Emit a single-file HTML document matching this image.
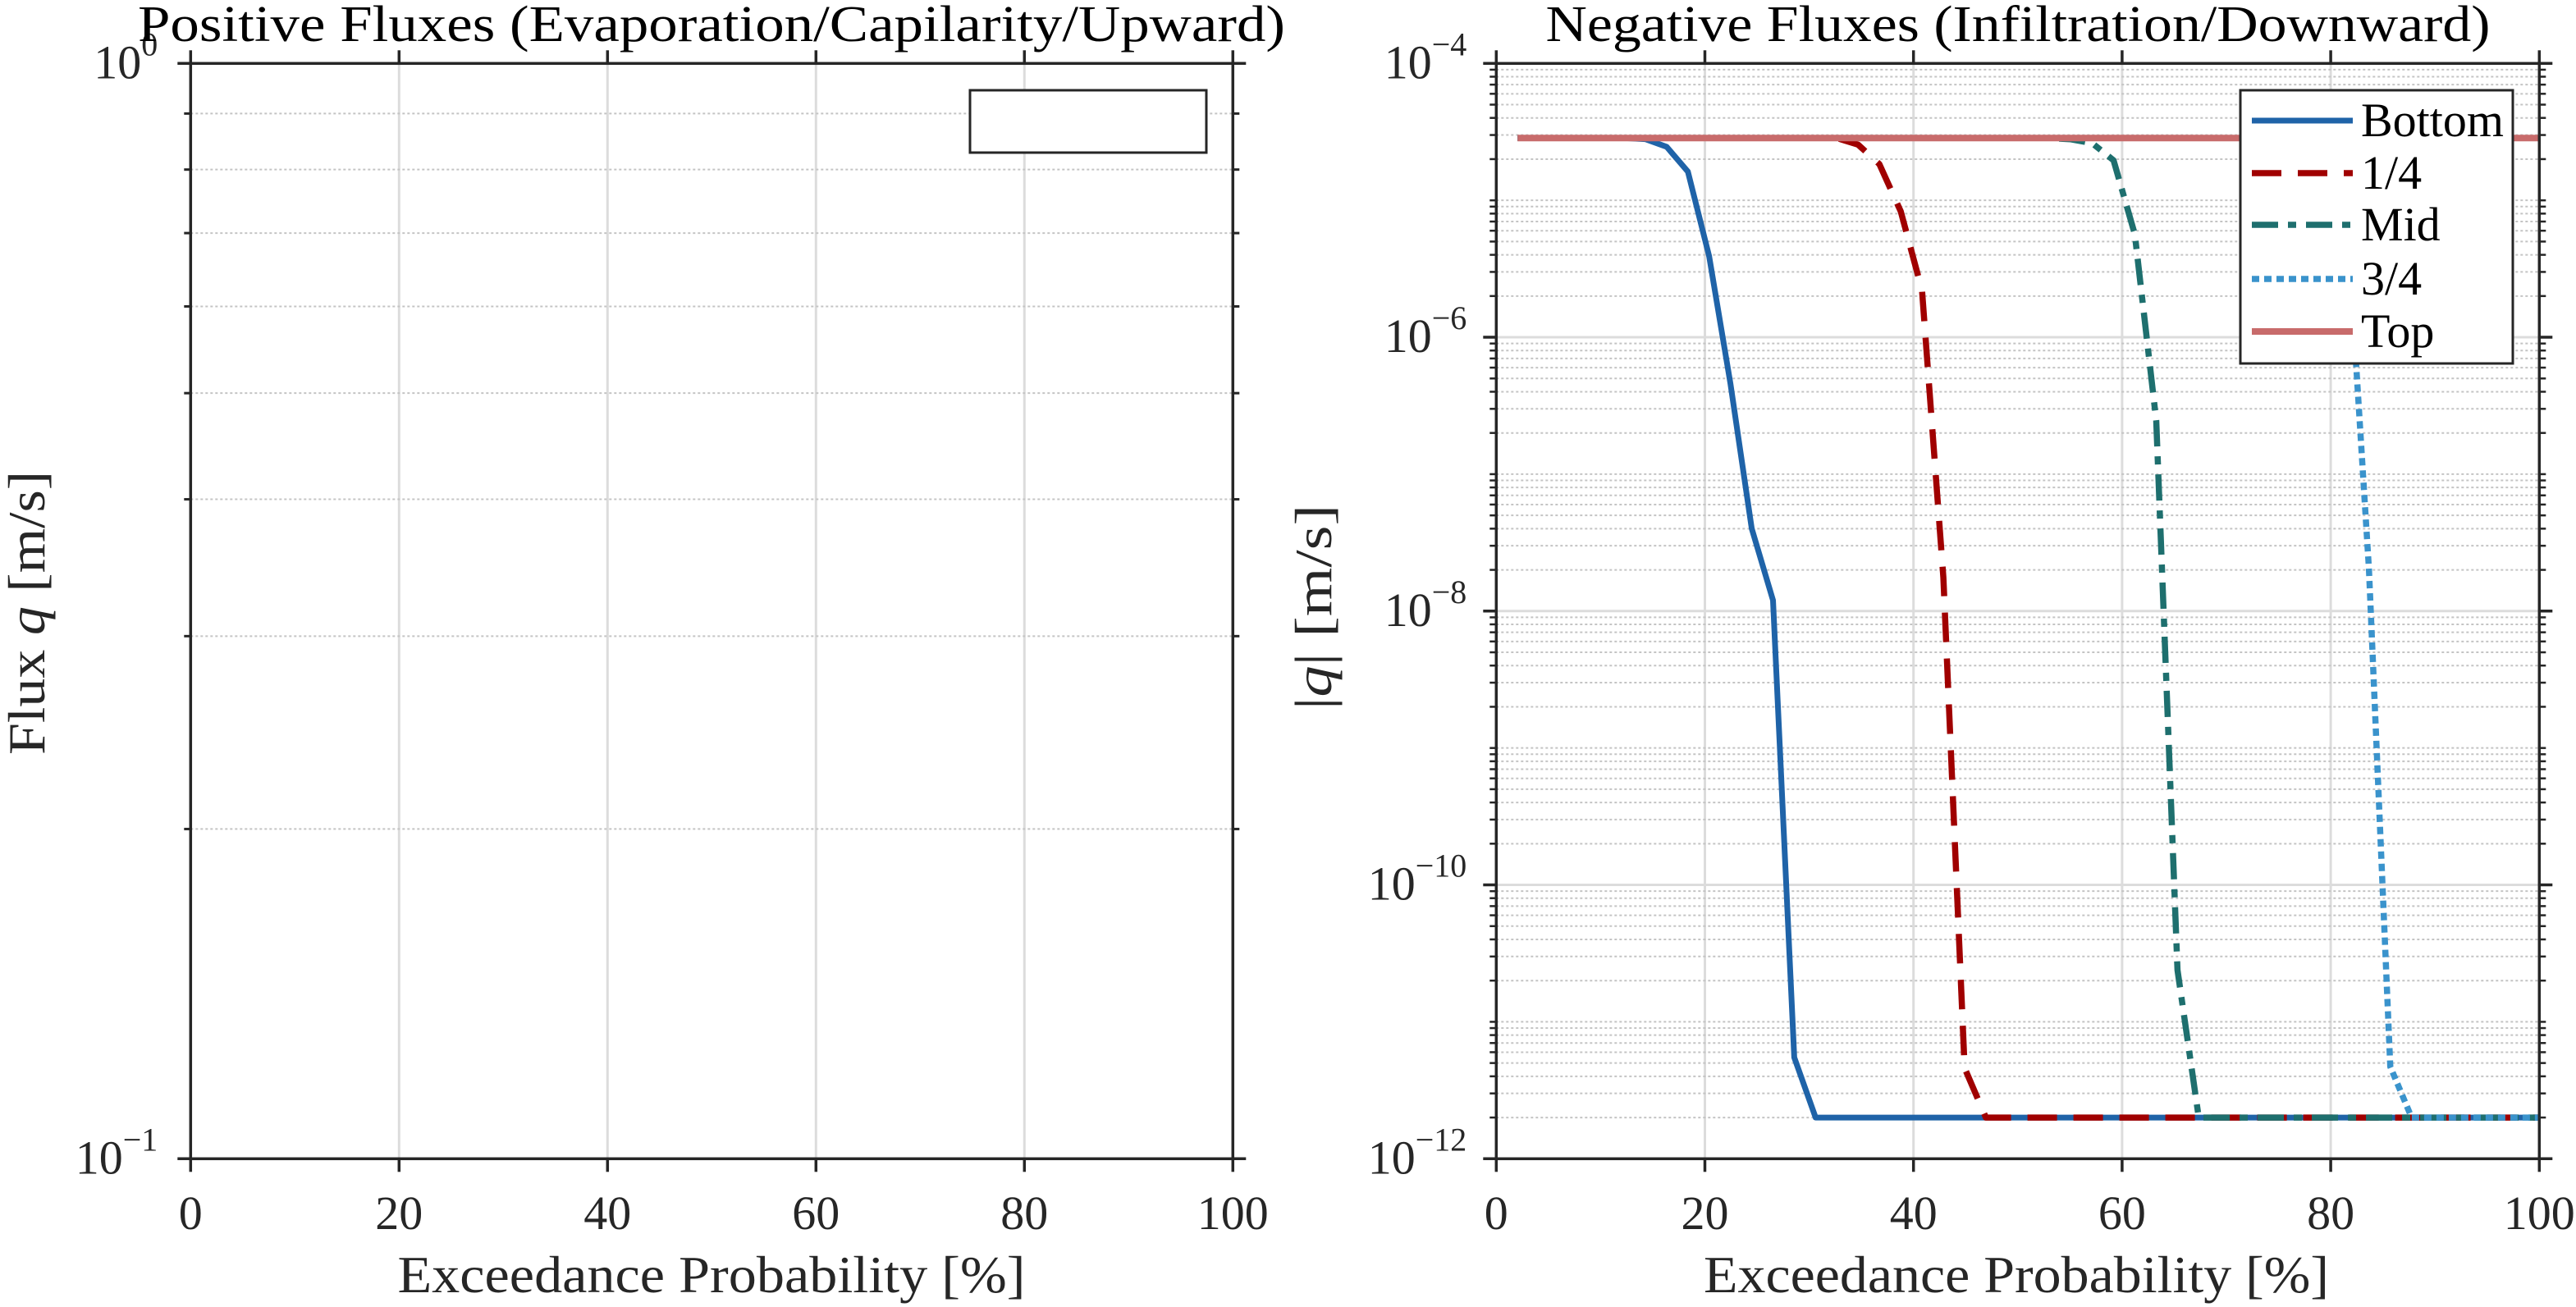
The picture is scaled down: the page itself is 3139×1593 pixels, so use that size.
<!DOCTYPE html>
<html><head><meta charset="utf-8"><style>
html,body{margin:0;padding:0;background:#fff;}
svg{display:block;font-family:"Liberation Serif",serif;}
</style></head><body>
<svg id="fig" width="3139" height="1593" viewBox="0 0 3139 1593" xmlns="http://www.w3.org/2000/svg"></svg>
<script>
// ---- data (right chart) ----
const probabilities = [2.04,4.08,6.12,8.16,10.20,12.24,14.29,16.33,18.37,20.41,22.45,24.49,26.53,28.57,30.61,32.65,34.69,36.73,38.78,40.82,42.86,44.90,46.94,48.98,51.02,53.06,55.10,57.14,59.18,61.22,63.27,65.31,67.35,69.39,71.43,73.47,75.51,77.55,79.59,81.63,83.67,85.71,87.76,89.80,91.84,93.88,95.92,97.96,100];
const bottomFlux = [2.85e-5,2.85e-5,2.85e-5,2.85e-5,2.85e-5,2.85e-5,2.8e-5,2.46e-5,1.62e-5,3.9e-6,4.6e-7,4.0e-8,1.2e-8,5.5e-12,
 2e-12,2e-12,2e-12,2e-12,2e-12,2e-12,2e-12,2e-12,2e-12,2e-12,2e-12,2e-12,2e-12,2e-12,2e-12,2e-12,2e-12,2e-12,2e-12,2e-12,2e-12,2e-12,2e-12,2e-12,2e-12,2e-12,2e-12,2e-12,2e-12,2e-12,2e-12,2e-12,2e-12,2e-12,2e-12];
const quarterFlux = [2.85e-5,2.85e-5,2.85e-5,2.85e-5,2.85e-5,2.85e-5,2.85e-5,2.85e-5,2.85e-5,2.85e-5,2.85e-5,2.85e-5,2.85e-5,2.85e-5,2.85e-5,2.85e-5,
 2.55e-5,1.84e-5,8.3e-6,2.2e-6,1.76e-8,4.6e-12,
 2e-12,2e-12,2e-12,2e-12,2e-12,2e-12,2e-12,2e-12,2e-12,2e-12,2e-12,2e-12,2e-12,2e-12,2e-12,2e-12,2e-12,2e-12,2e-12,2e-12,2e-12,2e-12,2e-12,2e-12,2e-12,2e-12,2e-12];
const midFlux = [2.85e-5,2.85e-5,2.85e-5,2.85e-5,2.85e-5,2.85e-5,2.85e-5,2.85e-5,2.85e-5,2.85e-5,2.85e-5,2.85e-5,2.85e-5,2.85e-5,2.85e-5,2.85e-5,2.85e-5,2.85e-5,2.85e-5,2.85e-5,2.85e-5,2.85e-5,2.85e-5,2.85e-5,2.85e-5,2.85e-5,
 2.79e-5,2.61e-5,1.96e-5,5.65e-6,2.46e-7,2.39e-11,
 2e-12,2e-12,2e-12,2e-12,2e-12,2e-12,2e-12,2e-12,2e-12,2e-12,2e-12,2e-12,2e-12,2e-12,2e-12,2e-12,2e-12];
const threeQuarterFlux = [2.85e-5,2.85e-5,2.85e-5,2.85e-5,2.85e-5,2.85e-5,2.85e-5,2.85e-5,2.85e-5,2.85e-5,2.85e-5,2.85e-5,2.85e-5,2.85e-5,2.85e-5,2.85e-5,2.85e-5,2.85e-5,2.85e-5,2.85e-5,2.85e-5,2.85e-5,2.85e-5,2.85e-5,2.85e-5,2.85e-5,2.85e-5,2.85e-5,2.85e-5,2.85e-5,2.85e-5,2.85e-5,2.85e-5,2.85e-5,2.85e-5,2.85e-5,2.85e-5,2.85e-5,
 2.0e-5,6.1e-6,2.02e-8,4.7e-12,
 2e-12,2e-12,2e-12,2e-12,2e-12,2e-12,2e-12];
const topFlux = [2.85e-5,2.85e-5,2.85e-5,2.85e-5,2.85e-5,2.85e-5,2.85e-5,2.85e-5,2.85e-5,2.85e-5,2.85e-5,2.85e-5,2.85e-5,2.85e-5,2.85e-5,2.85e-5,2.85e-5,2.85e-5,2.85e-5,2.85e-5,2.85e-5,2.85e-5,2.85e-5,2.85e-5,2.85e-5,2.85e-5,2.85e-5,2.85e-5,2.85e-5,2.85e-5,2.85e-5,2.85e-5,2.85e-5,2.85e-5,2.85e-5,2.85e-5,2.85e-5,2.85e-5,2.85e-5,2.85e-5,2.85e-5,2.85e-5,2.85e-5,2.85e-5,2.85e-5,2.85e-5,2.85e-5,2.85e-5,2.85e-5];
const seriesNames = ["Bottom","1/4","Mid","3/4","Top"];
const xTickLabels = ["0","20","40","60","80","100"];
const xTickValues = [0,20,40,60,80,100];
const rightExpTicks = [-4,-6,-8,-10,-12];
const leftExpTicks = [0,-1];

const NS="http://www.w3.org/2000/svg";
const svg=document.getElementById('fig');
function mk(tag,attrs,parent){const e=document.createElementNS(NS,tag);for(const k in attrs)e.setAttribute(k,attrs[k]);(parent||svg).appendChild(e);return e;}

const AX='#262626', GRID='#dcdcdc', MINOR='#c4c4c4';
const L={x0:232.3,x1:1502.3,y0:77.3,y1:1412.3};
const R={x0:1823.3,x1:3094.3,y0:77.3,y1:1412.3};
function xL(p){return L.x0+(L.x1-L.x0)*p/100;}
function yL(v){return L.y0+(0-Math.log10(v))*(L.y1-L.y0)/1;}
function xR(p){return R.x0+(R.x1-R.x0)*p/100;}
function yR(v){return R.y0+(-4-Math.log10(v))*(R.y1-R.y0)/8;}
const TF=58, SF=40, AW=3.5;

function drawFrame(A,name){
  const g=mk('g',{});
  
  
  return g;
}

// ---------- LEFT PLOT ----------
const gL=drawFrame(L,'positive-flux');
xTickValues.forEach(v=>{ if(v>0&&v<100){const l=mk('line',{x1:xL(v),x2:xL(v),y1:L.y0,y2:L.y1,stroke:GRID,'stroke-width':3},gL);

}});
for(let m=2;m<=9;m++){const y=yL(m/10);
  const l=mk('line',{x1:L.x0,x2:L.x1,y1:y,y2:y,stroke:MINOR,'stroke-width':2,'stroke-dasharray':'3 3'},gL);
  
  
  mk('line',{x1:L.x0-8,x2:L.x0,y1:y,y2:y,stroke:AX,'stroke-width':3},gL);
  mk('line',{x1:L.x1,x2:L.x1+8,y1:y,y2:y,stroke:AX,'stroke-width':3},gL);
}
const bL=mk('rect',{x:L.x0,y:L.y0,width:L.x1-L.x0,height:L.y1-L.y0,fill:'none',stroke:AX,'stroke-width':AW},gL);


xTickValues.forEach((v,i)=>{const x=xL(v);
  mk('line',{x1:x,x2:x,y1:L.y1,y2:L.y1+16,stroke:AX,'stroke-width':AW},gL);
  mk('line',{x1:x,x2:x,y1:L.y0-16,y2:L.y0,stroke:AX,'stroke-width':AW},gL);
  const t=mk('text',{x:x,y:1498,'font-size':TF,'text-anchor':'middle',fill:AX},gL);t.textContent=xTickLabels[i];
  
  
});
leftExpTicks.forEach(e=>{const y=yL(Math.pow(10,e));
  mk('line',{x1:L.x0-16,x2:L.x0,y1:y,y2:y,stroke:AX,'stroke-width':AW},gL);
  mk('line',{x1:L.x1,x2:L.x1+16,y1:y,y2:y,stroke:AX,'stroke-width':AW},gL);
  const t=mk('text',{x:L.x0-40,y:y+18,'font-size':TF,'text-anchor':'end',fill:AX},gL);
  
  
  t.appendChild(document.createTextNode('10'));
  const s=mk('tspan',{dy:-28,'font-size':SF},t);s.textContent=(e<0?'\u2212':'')+Math.abs(e);
});
const lgL=mk('rect',{x:1182,y:110,width:288,height:76,fill:'#fff',stroke:AX,'stroke-width':3},gL);


let t=mk('text',{x:867,y:50,'font-size':62,'text-anchor':'middle',fill:'#000',textLength:1398,lengthAdjust:'spacingAndGlyphs'},gL);
t.textContent='Positive Fluxes (Evaporation/Capilarity/Upward)';


t=mk('text',{x:867,y:1575,'font-size':64,'text-anchor':'middle',fill:AX,textLength:765,lengthAdjust:'spacingAndGlyphs'},gL);
t.textContent='Exceedance Probability [%]';


t=mk('text',{x:0,y:0,'font-size':64,'text-anchor':'middle',fill:AX,transform:'translate(54,747) rotate(-90)',textLength:346,lengthAdjust:'spacingAndGlyphs'},gL);
t.appendChild(document.createTextNode('Flux '));
const qi=mk('tspan',{'font-style':'italic'},t);qi.textContent='q';
t.appendChild(document.createTextNode(' [m/s]'));



// ---------- RIGHT PLOT ----------
const gR=drawFrame(R,'negative-flux');
xTickValues.forEach(v=>{ if(v>0&&v<100){const l=mk('line',{x1:xR(v),x2:xR(v),y1:R.y0,y2:R.y1,stroke:GRID,'stroke-width':3},gR);

}});
for(let e=-12;e<-4;e++){
  for(let m=1;m<=9;m++){
    if(m===1 && e%2===0) continue;
    const y=yR(m*Math.pow(10,e));
    const l=mk('line',{x1:R.x0,x2:R.x1,y1:y,y2:y,stroke:MINOR,'stroke-width':2,'stroke-dasharray':'3 3'},gR);
    
    
    mk('line',{x1:R.x0-8,x2:R.x0,y1:y,y2:y,stroke:AX,'stroke-width':2.5},gR);
    mk('line',{x1:R.x1,x2:R.x1+8,y1:y,y2:y,stroke:AX,'stroke-width':2.5},gR);
  }
}
rightExpTicks.forEach(e=>{const y=yR(Math.pow(10,e));
  if(e>-12&&e<-4){const l=mk('line',{x1:R.x0,x2:R.x1,y1:y,y2:y,stroke:GRID,'stroke-width':3},gR);
  
  }
});
const styles=[
 {d:bottomFlux,c:'#1f63a8',w:7,da:''},
 {d:quarterFlux,c:'#a00000',w:7.5,da:'36 20'},
 {d:midFlux,c:'#1e6f6e',w:7.5,da:'32 12 10 12'},
 {d:threeQuarterFlux,c:'#3a93cc',w:7.5,da:'9 6'},
 {d:topFlux,c:'#c86b6b',w:8,da:''}
];
const clip=mk('clipPath',{id:'clipR'});
mk('rect',{x:R.x0,y:R.y0-4,width:R.x1-R.x0,height:R.y1-R.y0+8},clip);
const gS=mk('g',{'clip-path':'url(#clipR)'},gR);
styles.forEach((s,i)=>{
  const pts=probabilities.map((p,j)=>xR(p).toFixed(1)+','+yR(s.d[j]).toFixed(1)).join(' ');
  const pl=mk('polyline',{points:pts,fill:'none',stroke:s.c,'stroke-width':s.w,'stroke-dasharray':s.da,'stroke-linejoin':'round'},gS);
  
  
});
const bR=mk('rect',{x:R.x0,y:R.y0,width:R.x1-R.x0,height:R.y1-R.y0,fill:'none',stroke:AX,'stroke-width':AW},gR);


xTickValues.forEach((v,i)=>{const x=xR(v);
  mk('line',{x1:x,x2:x,y1:R.y1,y2:R.y1+16,stroke:AX,'stroke-width':AW},gR);
  mk('line',{x1:x,x2:x,y1:R.y0-16,y2:R.y0,stroke:AX,'stroke-width':AW},gR);
  const tt=mk('text',{x:x,y:1498,'font-size':TF,'text-anchor':'middle',fill:AX},gR);tt.textContent=xTickLabels[i];
  
  
});
rightExpTicks.forEach(e=>{const y=yR(Math.pow(10,e));
  mk('line',{x1:R.x0-16,x2:R.x0,y1:y,y2:y,stroke:AX,'stroke-width':AW},gR);
  mk('line',{x1:R.x1,x2:R.x1+16,y1:y,y2:y,stroke:AX,'stroke-width':AW},gR);
  const tt=mk('text',{x:R.x0-36,y:y+18,'font-size':TF,'text-anchor':'end',fill:AX},gR);
  
  
  tt.appendChild(document.createTextNode('10'));
  const s=mk('tspan',{dy:-28,'font-size':SF},tt);s.textContent='\u2212'+Math.abs(e);
});
const lg=mk('g',{},gR);


mk('rect',{x:2730,y:110,width:332,height:333,fill:'#fff',stroke:AX,'stroke-width':3},lg);
const rowsY=[147,211,274,340,404];
styles.forEach((s,i)=>{
  const e=mk('g',{},lg);
  
  
  mk('line',{x1:2744,x2:2867,y1:rowsY[i],y2:rowsY[i],stroke:s.c,'stroke-width':s.w,'stroke-dasharray':s.da},e);
  const tt=mk('text',{x:2877,y:rowsY[i]+19,'font-size':58,fill:'#000'},e);tt.textContent=seriesNames[i];
});
t=mk('text',{x:2459,y:50,'font-size':62,'text-anchor':'middle',fill:'#000',textLength:1151,lengthAdjust:'spacingAndGlyphs'},gR);
t.textContent='Negative Fluxes (Infiltration/Downward)';


t=mk('text',{x:2457,y:1575,'font-size':64,'text-anchor':'middle',fill:AX,textLength:762,lengthAdjust:'spacingAndGlyphs'},gR);
t.textContent='Exceedance Probability [%]';


t=mk('text',{x:0,y:0,'font-size':64,'text-anchor':'middle',fill:AX,transform:'translate(1622,740) rotate(-90)',textLength:250,lengthAdjust:'spacingAndGlyphs'},gR);
t.appendChild(document.createTextNode('|'));
const q2=mk('tspan',{'font-style':'italic'},t);q2.textContent='q';
t.appendChild(document.createTextNode('| [m/s]'));


</script>
</body></html>
